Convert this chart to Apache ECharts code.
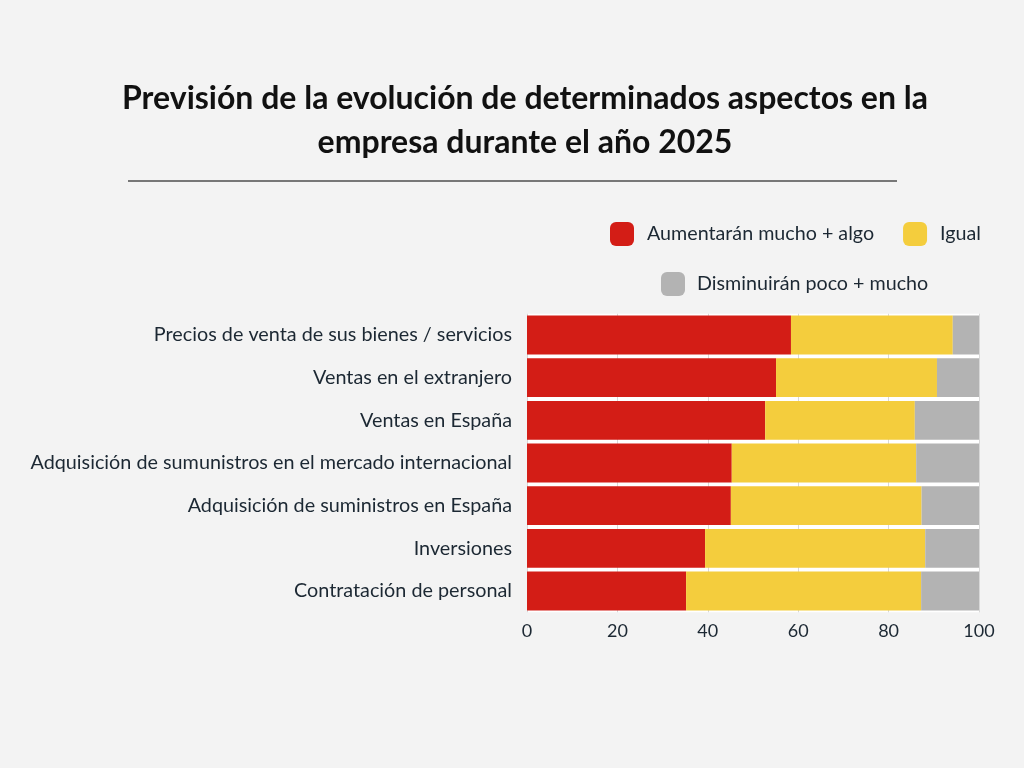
<!DOCTYPE html>
<html><head><meta charset="utf-8">
<script src="https://cdn.jsdelivr.net/npm/echarts@6/dist/echarts.min.js"></script>
<style>html,body{margin:0;padding:0;background:#f3f3f3}#c{width:1024px;height:768px}</style>
</head><body><div id="c"></div>
<script>
const categories = [
  "Precios de venta de sus bienes / servicios",
  "Ventas en el extranjero",
  "Ventas en España",
  "Adquisición de sumunistros en el mercado internacional",
  "Adquisición de suministros en España",
  "Inversiones",
  "Contratación de personal"
];
const aumentaran = [58.4, 55.1, 52.7, 45.3, 45.1, 39.4, 35.2];
const igual = [35.8, 35.6, 33.1, 40.8, 42.2, 48.7, 52.0];
const disminuiran = [5.8, 9.3, 14.2, 13.9, 12.7, 11.9, 12.8];
const xTicks = [0, 20, 40, 60, 80, 100];
const seriesNames = ["Aumentarán mucho + algo", "Igual", "Disminuirán poco + mucho"];

const txt = '#1c2833';
const font = 'Lato';
const chart = echarts.init(document.getElementById('c'), null, {renderer: 'canvas'});
function mk(name, data, color) {
  return {
    name, type: 'bar', stack: 'total', data,
    barCategoryGap: '9%',
    itemStyle: {color},
    emphasis: {disabled: true}
  };
}
chart.setOption({
  backgroundColor: '#f3f3f3',
  animation: false,
  title: {
    text: 'Previsión de la evolución de determinados aspectos en la\nempresa durante el año 2025',
    left: 525, textAlign: 'center', top: 72,
    textStyle: {fontFamily: font, fontWeight: 'bold', fontSize: 32, color: '#111', lineHeight: 44}
  },
  graphic: [{
    type: 'line', shape: {x1: 128, y1: 181, x2: 897, y2: 181},
    style: {stroke: '#777', lineWidth: 2}
  }],
  legend: [{
    data: [seriesNames[0], seriesNames[1]],
    left: 605, top: 217, itemWidth: 24, itemHeight: 24, itemGap: 29,
    icon: 'roundRect',
    textStyle: {fontFamily: font, fontSize: 19.7, color: txt, padding: [0, 0, 0, 8]},
    selectedMode: false
  }, {
    data: [seriesNames[2]],
    left: 656, top: 267, itemWidth: 24, itemHeight: 24,
    icon: 'roundRect',
    textStyle: {fontFamily: font, fontSize: 19.7, color: txt, padding: [0, 0, 0, 7]},
    selectedMode: false
  }],
  grid: {left: 527, right: 45, top: 313.7, bottom: 155.7, containLabel: false,
    show: true, backgroundColor: '#ffffff', borderWidth: 0},
  xAxis: {
    type: 'value', min: 0, max: 100, interval: 20,
    axisLine: {show: false}, axisTick: {show: false},
    splitLine: {show: true, lineStyle: {color: '#d8d8d8', width: 1}},
    axisLabel: {fontFamily: font, fontSize: 18, color: txt, margin: 10,
      formatter: v => xTicks.includes(v) ? String(v) : ''}
  },
  yAxis: {
    type: 'category', data: categories, inverse: true,
    axisLine: {show: false}, axisTick: {show: false},
    axisLabel: {fontFamily: font, fontSize: 19.8, color: txt, margin: 15}
  },
  series: [
    mk(seriesNames[0], aumentaran, '#d31d16'),
    mk(seriesNames[1], igual, '#f4cd3d'),
    mk(seriesNames[2], disminuiran, '#b3b3b3')
  ]
});
chart.setOption({title: {left: 520}});
</script></body></html>
